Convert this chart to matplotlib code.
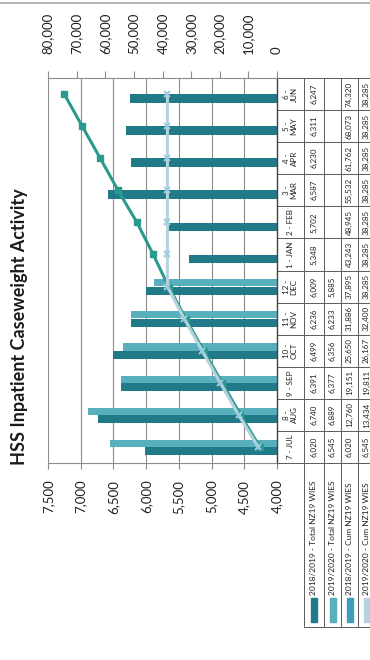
"""Monthly inpatient caseweight activity, bars for monthly WIES and lines for
the running totals, laid out portrait with a data table down the right side."""

import matplotlib

matplotlib.use("Agg")
import matplotlib.pyplot as plt
import numpy as np
from matplotlib.lines import Line2D
from matplotlib.patches import Rectangle

plt.rcParams["font.family"] = ["Lato", "DejaVu Sans"]

# ---- data -----------------------------------------------------------------
MONTH_LABELS = [
    "7 - JUL", "8 -\nAUG", "9 - SEP", "10 -\nOCT", "11 -\nNOV", "12 -\nDEC",
    "1 - JAN", "2 - FEB", "3 -\nMAR", "4 -\nAPR", "5 -\nMAY", "6 -\nJUN",
]
SERIES_NAMES = [
    "2018/2019 - Total NZ19 WIES",
    "2019/2020 - Total NZ19 WIES",
    "2018/2019 - Cum NZ19 WIES",
    "2019/2020 - Cum NZ19 WIES",
]
TOTAL_1819 = [6020, 6740, 6391, 6499, 6236, 6009, 5348, 5702, 6587, 6230, 6311, 6247]
TOTAL_1920 = [6545, 6889, 6377, 6356, 6233, 5885]
CUM_1819 = [6020, 12760, 19151, 25650, 31886, 37895, 43243, 48945, 55532, 61762, 68073, 74320]
CUM_1920 = [6545, 13434, 19811, 26167, 32400, 38285, 38285, 38285, 38285, 38285, 38285, 38285]
PRIMARY_TICKS = [4000, 4500, 5000, 5500, 6000, 6500, 7000, 7500]
SECONDARY_TICKS = [0, 10000, 20000, 30000, 40000, 50000, 60000, 70000, 80000]

# ---- styling --------------------------------------------------------------
DARK_BAR = "#217a8a"
LIGHT_BAR = "#58afbd"
CUM_DARK = "#2a9a8e"
CUM_LIGHT = "#b6d3dd"
GRID = "#8c8c8c"
TABLE_LINE = "#5a5a5a"
TEXT = "#222222"

W, H = 370, 660  # canvas size in px


def fx(px):
    return px / W


def fy(py):
    return 1 - py / H


fig = plt.figure(figsize=(W / 100, H / 100), dpi=100, facecolor="white")

# plot area in pixel terms: value axis runs right->left, months bottom->top
PLOT_L, PLOT_R, PLOT_T, PLOT_B = 48, 277, 78, 463
n = len(MONTH_LABELS)
cat_px = (PLOT_B - PLOT_T) / n
pos = np.arange(n)

ax = fig.add_axes([fx(PLOT_L), fy(PLOT_B), (PLOT_R - PLOT_L) / W, (PLOT_B - PLOT_T) / H])
ax.set_xlim(PRIMARY_TICKS[-1], PRIMARY_TICKS[0])
ax.set_ylim(-0.5, n - 0.5)

ax.barh(pos - 0.135, TOTAL_1819, height=0.26, color=DARK_BAR, zorder=2)
ax.barh(pos[: len(TOTAL_1920)] + 0.115, TOTAL_1920, height=0.22, color=LIGHT_BAR, zorder=2)

ax.set_xticks(PRIMARY_TICKS)
ax.set_xticklabels([f"{v:,}" for v in PRIMARY_TICKS])
ax.grid(axis="x", color=GRID, linewidth=0.8)
ax.set_axisbelow(True)
ax.set_yticks([])
ax.tick_params(axis="x", direction="out", length=4, width=0.8, color=GRID, pad=8,
               labelrotation=90, labelsize=9.5, labelcolor=TEXT)
for side in ("top", "left"):
    ax.spines[side].set_visible(False)
ax.spines["bottom"].set_color(GRID)
ax.spines["right"].set_color("#444444")
ax.spines["right"].set_linewidth(1.0)

# cumulative totals on the secondary scale
ax2 = ax.twiny()
ax2.set_xlim(SECONDARY_TICKS[-1], SECONDARY_TICKS[0])
ax2.set_xticks(SECONDARY_TICKS)
ax2.set_xticklabels([f"{v:,}" for v in SECONDARY_TICKS])
ax2.tick_params(axis="x", direction="out", length=5, width=0.8, color=GRID, pad=12,
                labelrotation=90, labelsize=9.5, labelcolor=TEXT)
for side in ("bottom", "left", "right"):
    ax2.spines[side].set_visible(False)
ax2.spines["top"].set_color(GRID)
ax2.plot(CUM_1819, pos, color=CUM_DARK, linewidth=2.2, marker="s", markersize=5, zorder=3)
ax2.plot(CUM_1920, pos, color=CUM_LIGHT, linewidth=2.2, marker="x", markersize=5,
         markeredgewidth=1.4, markeredgecolor="#9fcbe0", zorder=3)

# ---- data table down the right-hand side ----------------------------------
TAB_BOTTOM = 628
ROW_EDGES = [277, 304, 324, 341, 358, 375]
tab = fig.add_axes([fx(PLOT_R), fy(TAB_BOTTOM), (ROW_EDGES[-1] - PLOT_R) / W,
                    (TAB_BOTTOM - PLOT_T) / H])
tab_floor = n - 0.5 - (TAB_BOTTOM - PLOT_T) / cat_px
tab.set_xlim(ROW_EDGES[0], ROW_EDGES[-1])
tab.set_ylim(tab_floor, n - 0.5)
tab.axis("off")

line_kw = dict(color=TABLE_LINE, linewidth=0.7)
tab.hlines(np.arange(-0.5, n), ROW_EDGES[0], ROW_EDGES[-1], **line_kw)
tab.hlines(tab_floor + 0.02, ROW_EDGES[1], ROW_EDGES[-1], **line_kw)
tab.vlines(ROW_EDGES[1:], tab_floor + 0.02, n - 0.5, **line_kw)

cell_kw = dict(rotation=90, ha="center", va="center", fontsize=5.8, color=TEXT,
               linespacing=1.0)
head_x = (ROW_EDGES[0] + ROW_EDGES[1]) / 2
for i, label in enumerate(MONTH_LABELS):
    tab.text(head_x, i, label, **cell_kw)

row_values = [TOTAL_1819, TOTAL_1920, CUM_1819, CUM_1920]
row_x = [(a + b) / 2 for a, b in zip(ROW_EDGES[1:-1], ROW_EDGES[2:])]
for x, values in zip(row_x, row_values):
    for i, v in enumerate(values):
        tab.text(x, i, f"{v:,}", **cell_kw)

# legend keys and series names under the plot
key_colors = [DARK_BAR, LIGHT_BAR, "#3e9db8", CUM_LIGHT]
key_top = n - 0.5 - (598 - PLOT_T) / cat_px
key_len = 24 / cat_px
text_start = n - 0.5 - (595 - PLOT_T) / cat_px
for x, name, color in zip(row_x, SERIES_NAMES, key_colors):
    tab.add_patch(Rectangle((x - 3, key_top - key_len), 6, key_len, color=color))
    tab.text(x, text_start, name, rotation=90, rotation_mode="anchor", ha="left",
             va="center", fontsize=6, color=TEXT)

# title and chart border
fig.text(fx(20), fy(327), "HSS Inpatient Caseweight Activity", rotation=90,
         ha="center", va="center", fontsize=13, fontweight="bold", color="#1a1a1a")
fig.add_artist(Line2D([0, 1], [fy(2.5), fy(2.5)], color="#b4b4b4", linewidth=1.4))

fig.savefig("out.png", dpi=100, facecolor="white")
